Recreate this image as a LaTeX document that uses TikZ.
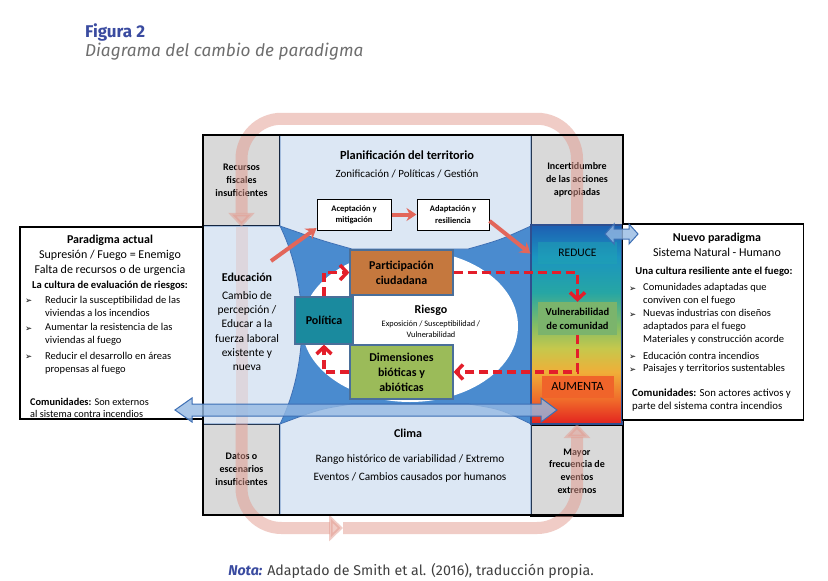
\documentclass[tikz,border=0pt]{standalone}
\usepackage{fontspec}
\setmainfont{Carlito}
\newfontfamily\firasans{Fira Sans}
\newfontfamily\dejavu{DejaVu Sans}
\usetikzlibrary{arrows.meta}

\definecolor{titleblue}{HTML}{3A4BA0}
\definecolor{capgray}{HTML}{6E6E6E}
\definecolor{notegray}{HTML}{404040}
\definecolor{boxgray}{HTML}{D9D9D9}
\definecolor{paleblue}{HTML}{DCE7F4}
\definecolor{midblue}{HTML}{4A8BCF}
\definecolor{edgeblue}{HTML}{3C6EB4}
\definecolor{darkedge}{HTML}{2F4F8F}
\definecolor{slate}{HTML}{4A6F9A}
\definecolor{bandpink}{HTML}{E39A8E}
\definecolor{arrowred}{HTML}{E2665A}
\definecolor{dashred}{HTML}{E31E2A}
\definecolor{partbrown}{HTML}{C5783E}
\definecolor{polteal}{HTML}{1A8A9E}
\definecolor{dimgreen}{HTML}{9BBB59}
\definecolor{flowblue}{HTML}{95B9E3}
\definecolor{reduceteal}{HTML}{1FA3B3}
\definecolor{vulngreen}{HTML}{7BB46C}
\definecolor{aumorange}{HTML}{F0642A}
\definecolor{gradred}{HTML}{E2221F}
\definecolor{gradorange}{HTML}{F06A2A}
\definecolor{gradamber}{HTML}{F0AE38}
\definecolor{gradyellow}{HTML}{C6C84C}
\definecolor{gradgreen}{HTML}{80BC66}
\definecolor{gradteal}{HTML}{26A6A4}
\definecolor{gradcyan}{HTML}{1B94C0}
\definecolor{gradblue}{HTML}{1D5FB2}

\pgfdeclareverticalshading{riskgrad}{100bp}{color(0bp)=(gradred); color(25bp)=(gradred); color(31bp)=(gradorange); color(38bp)=(gradamber); color(44bp)=(gradyellow); color(50bp)=(gradgreen); color(58bp)=(gradteal); color(67bp)=(gradcyan); color(75bp)=(gradblue); color(100bp)=(gradblue)}

\begin{document}
\begin{tikzpicture}[x=1pt,y=-1pt]
\tikzstyle{graybox}=[draw, line width=1.5pt, fill=boxgray, inner sep=0pt, align=center, font=\bfseries\fontsize{10}{12.8}\selectfont]
\tikzstyle{paradigm}=[draw, line width=1.5pt, fill=white, inner sep=0pt]
\tikzstyle{region}=[fill=paleblue, draw=edgeblue, line width=0.8pt]
\tikzstyle{band}=[draw=bandpink, line width=12pt, opacity=0.5, rounded corners=40pt]
\tikzstyle{bandtip}=[-{Triangle[length=14pt,width=26pt]}]
\tikzstyle{smallbox}=[draw, line width=1pt, fill=white, minimum height=31pt, inner sep=0pt, align=center, font=\bfseries\fontsize{8.5}{11.5}\selectfont]
\tikzstyle{riskbox}=[draw=slate, line width=1.2pt, inner sep=0pt, align=center, font=\bfseries\fontsize{12}{15}\selectfont]
\tikzstyle{redarrow}=[draw=arrowred, line width=4pt, -{Stealth[length=10pt,width=13pt]}]
\tikzstyle{dasharrow}=[draw=dashred, line width=3.5pt, dash pattern=on 9pt off 5pt, -{Straight Barb[length=7pt,width=15pt]}]
\tikzstyle{flow}=[fill=flowblue, draw=edgeblue, line width=1pt, fill opacity=0.8]
\tikzstyle{headline}=[inner sep=0pt, font=\bfseries\fontsize{12}{14}\selectfont]
\tikzstyle{plaintext}=[inner sep=0pt, font=\fontsize{12}{14}\selectfont]
\tikzstyle{smalltext}=[inner sep=0pt, align=center, font=\fontsize{11.5}{14.2}\selectfont]
\tikzstyle{culture}=[inner sep=0pt, font=\bfseries\fontsize{10.6}{12}\selectfont]
\tikzstyle{bulletmark}=[anchor=west, inner sep=0pt, font=\dejavu\fontsize{8.5}{9}\selectfont]
\tikzstyle{itemtext}=[anchor=west, inner sep=0pt, align=left, font=\fontsize{10.5}{13}\selectfont]

\useasboundingbox (0,0) rectangle (828,581);
\fill[white] (0,0) rectangle (828,581);

\node[anchor=base west, inner sep=0pt, text=titleblue, font=\firasans\bfseries\fontsize{17}{19}\selectfont] (figura) at (85,37) {Figura 2};
\node[anchor=base west, inner sep=0pt, text=capgray, font=\firasans\itshape\fontsize{17.2}{19}\selectfont] (titulo) at (85,56) {Diagrama del cambio de paradigma};
\node[anchor=base, inner sep=0pt, text=notegray, font=\firasans\fontsize{14.2}{16}\selectfont] (nota) at (411,575) {{\color{titleblue}\bfseries\itshape Nota:} Adaptado de Smith et al. (2016), traducción propia.};

\node[graybox, minimum width=77pt, minimum height=91pt] (recursos) at (241.5,180.5) {Recursos\\fiscales\\insuficientes};
\node[graybox, minimum width=92pt, minimum height=90pt] (incert) at (577,180) {Incertidumbre\\de las acciones\\apropiadas};
\node[graybox, minimum width=77pt, minimum height=91pt] (datos) at (241.5,469.5) {Datos o\\escenarios\\insuficientes};
\node[graybox, minimum width=92pt, minimum height=91pt] (mayor) at (577,471) {Mayor\\frecuencia de\\eventos\\extremos};

\fill[midblue] (280,226) rectangle (531,424);
\filldraw[region] (280,135) -- (531,135) -- (531,226) .. controls (500,240) .. (468,249) -- (352,249) .. controls (320,240) .. (280,226) -- cycle;
\filldraw[region] (203,226) -- (280,226) .. controls (309,285) and (309,365) .. (280,424) -- (203,424) -- cycle;
\filldraw[region] (280,515) -- (280,424) .. controls (320,409) .. (352,404) -- (468,404) .. controls (500,409) .. (531,424) -- (531,515) -- cycle;
\fill[white] (410,326) ellipse [x radius=108, y radius=76];

\coordinate (bandmid) at (343,528);
\draw[band, bandtip] (incert.south) -- ++(0,-107) -| (recursos.south);
\draw[band, opacity=0.22] (recursos.south) -- (datos.north);
\draw[band, bandtip] (datos.north) |- (bandmid);
\draw[band, bandtip] (bandmid) -| (577,424);

\draw[line width=1.5pt] (203,135) rectangle (623,515);

\node[draw=darkedge, line width=1.2pt, shade, shading=riskgrad, minimum width=91pt, minimum height=199pt, inner sep=0pt] (grad) at (576.5,324.5) {};
\node[fill=reduceteal, fill opacity=0.5, text opacity=1, minimum width=79pt, minimum height=22pt, inner sep=0pt, font=\fontsize{11.5}{13}\selectfont] (reduce) at (577.5,253) {REDUCE};
\node[fill=vulngreen, minimum width=79pt, minimum height=33pt, inner sep=0pt, align=center, font=\bfseries\fontsize{10.5}{14}\selectfont] (vuln) at (577.5,318.5) {Vulnerabilidad\\de comunidad};
\node[fill=aumorange, minimum width=72pt, minimum height=22pt, inner sep=0pt, font=\fontsize{12.5}{14}\selectfont] (aumenta) at (577.5,386.5) {AUMENTA};

\node[headline, font=\bfseries\fontsize{12.4}{14}\selectfont] (plan) at (407,155) {Planificación del territorio};
\node[inner sep=0pt, font=\fontsize{11}{13}\selectfont] (plansub) at (407,174) {Zonificación / Políticas / Gestión};
\node[smallbox, minimum width=74pt] (acep) at (354,214.5) {Aceptación y\\mitigación};
\node[smallbox, minimum width=72pt] (adap) at (453,214.5) {Adaptación y\\resiliencia};

\node[headline] (edu) at (247,277) {Educación};
\node[smalltext] (edusub) at (247,331) {Cambio de\\percepción /\\Educar a la\\fuerza laboral\\existente y\\nueva};

\node[riskbox, fill=partbrown, minimum width=103pt, minimum height=45pt] (part) at (401.5,272.5) {Participación\\ciudadana};
\node[riskbox, fill=polteal, minimum width=58pt, minimum height=47pt] (pol) at (324,320.5) {Política};
\node[riskbox, fill=dimgreen, minimum width=103pt, minimum height=54pt] (dim) at (401.5,372) {Dimensiones\\bióticas y\\abióticas};
\node[headline] (riesgo) at (431,310) {Riesgo};
\node[inner sep=0pt, align=center, font=\fontsize{8.3}{11}\selectfont] (riesgosub) at (431,329) {Exposición / Susceptibilidad /\\Vulnerabilidad};

\node[headline] (clima) at (408,433) {Clima};
\node[inner sep=0pt, align=center, font=\fontsize{11.3}{18}\selectfont] (climasub) at (410,468) {Rango histórico de variabilidad / Extremo\\Eventos / Cambios causados por humanos};

\node[paradigm, minimum width=183pt, minimum height=192pt] (actual) at (111.5,323) {};
\node[headline] (actualtit) at (110,240) {Paradigma actual};
\node[plaintext] (actualsup) at (110,255) {Supresión / Fuego = Enemigo};
\node[plaintext] (actualfalta) at (110,270) {Falta de recursos o de urgencia};
\node[culture] (actualcult) at (110,286) {La cultura de evaluación de riesgos:};
\node[bulletmark] (ba1) at (25,301) {➢};
\node[itemtext] (ia1) at (45,306.5) {Reducir la susceptibilidad de las\\viviendas a los incendios};
\node[bulletmark] (ba2) at (25,329) {➢};
\node[itemtext] (ia2) at (45,334.5) {Aumentar la resistencia de las\\viviendas al fuego};
\node[bulletmark] (ba3) at (25,357) {➢};
\node[itemtext] (ia3) at (45,363) {Reducir el desarrollo en áreas\\propensas al fuego};
\node[itemtext, font=\fontsize{10.3}{11.5}\selectfont] (actualcom) at (30,408) {\textbf{Comunidades:} Son externos\\al sistema contra incendios};

\node[paradigm, minimum width=181pt, minimum height=196pt] (nuevo) at (713,322) {};
\node[headline] (nuevotit) at (717,238) {Nuevo paradigma};
\node[plaintext] (nuevosis) at (717,252) {Sistema Natural - Humano};
\node[culture] (nuevocult) at (714,272) {Una cultura resiliente ante el fuego:};
\node[bulletmark] (bn1) at (629,289) {➢};
\node[itemtext] (in1) at (643,294.5) {Comunidades adaptadas que\\conviven con el fuego};
\node[bulletmark] (bn2) at (629,315) {➢};
\node[itemtext] (in2) at (643,327) {Nuevas industrias con diseños\\adaptados para el fuego\\Materiales y construcción acorde};
\node[bulletmark] (bn3) at (629,357) {➢};
\node[itemtext] (in3) at (643,356) {Educación contra incendios};
\node[bulletmark] (bn4) at (629,370) {➢};
\node[itemtext] (in4) at (643,369) {Paisajes y territorios sustentables};
\node[itemtext, font=\fontsize{10.8}{13}\selectfont] (nuevocom) at (632,400.5) {\textbf{Comunidades:} Son actores activos y\\parte del sistema contra incendios};

\coordinate (eduout) at (271,261);
\draw[redarrow] (eduout) -- (acep.200);
\draw[redarrow] (acep.east) -- (adap.west);
\draw[redarrow] (adap.-10) -- (grad.123);

\draw[dasharrow] (pol.north) |- (part.west);
\draw[dasharrow] (part.east) -| (vuln.north);
\draw[dasharrow] (vuln.south) |- (dim.east);
\draw[dasharrow] (dim.west) -| (pol.south);

\filldraw[flow] (175,410) -- (192,398) -- (192,404) -- (541,404) -- (541,398) -- (557,410) -- (541,422) -- (541,416) -- (192,416) -- (192,422) -- cycle;
\filldraw[flow] (605,234) -- (614,224) -- (614,229) -- (629,229) -- (629,224) -- (638,234) -- (629,244) -- (629,239) -- (614,239) -- (614,244) -- cycle;
\end{tikzpicture}
\end{document}
